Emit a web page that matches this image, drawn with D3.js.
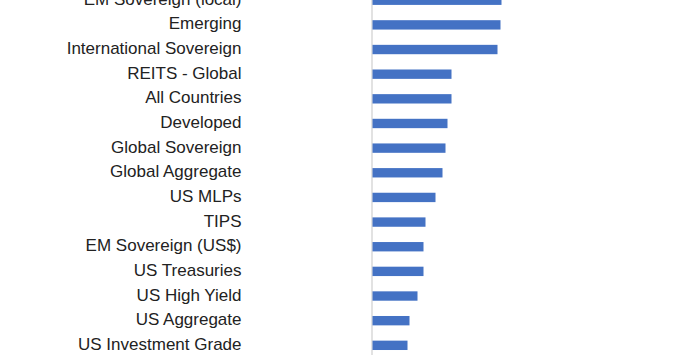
<!DOCTYPE html>
<html>
<head>
<meta charset="utf-8">
<script src="https://cdn.jsdelivr.net/npm/d3@7"></script>
<style>
  html, body { margin: 0; padding: 0; background: #fff; }
  svg { display: block; }
</style>
</head>
<body>
<svg id="chart" width="678" height="355"></svg>
<script>
const categories = [
  "EM Sovereign (local)", "Emerging", "International Sovereign", "REITS - Global",
  "All Countries", "Developed", "Global Sovereign", "Global Aggregate", "US MLPs",
  "TIPS", "EM Sovereign (US$)", "US Treasuries", "US High Yield", "US Aggregate",
  "US Investment Grade"
];
const values = [12.9, 12.8, 12.5, 7.9, 7.9, 7.5, 7.3, 7.0, 6.3, 5.3, 5.1, 5.1, 4.5, 3.7, 3.5];

const svg = d3.select("#chart");
const W = 678, H = 355;
const x0 = 372.5;

const x = d3.scaleLinear().domain([0, 10]).range([x0, x0 + 100]);
const y = d3.scaleBand().domain(categories)
  .range([-12.1, -12.1 + 24.65 * categories.length])
  .paddingInner(0.62).paddingOuter(0.31);

// axis line
svg.append("line")
  .attr("x1", x0 - 0.5).attr("x2", x0 - 0.5)
  .attr("y1", 0).attr("y2", H)
  .attr("stroke", "#d9d9d9").attr("stroke-width", 1.5);

svg.selectAll("rect.bar").data(categories).join("rect")
  .attr("class", "bar")
  .attr("x", x(0))
  .attr("y", d => y(d))
  .attr("width", (d, i) => x(values[i]) - x(0))
  .attr("height", y.bandwidth())
  .attr("fill", "#4472C4");

svg.selectAll("text.lab").data(categories).join("text")
  .attr("class", "lab")
  .attr("x", 241.5)
  .attr("y", d => y(d) + y.bandwidth() / 2)
  .attr("dy", "0.27em")
  .attr("text-anchor", "end")
  .attr("font-family", "Liberation Sans, Arial, sans-serif")
  .attr("font-size", 17)
  .attr("fill", "#222")
  .text(d => d);
</script>
</body>
</html>
